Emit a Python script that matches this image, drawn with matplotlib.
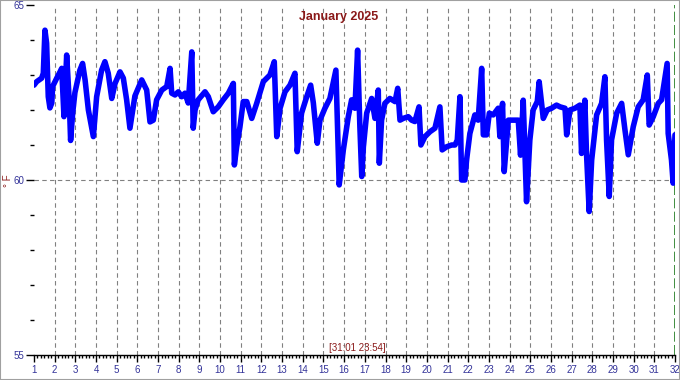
"""January 2025 temperature trace (°F), one day per grid column."""
import matplotlib
matplotlib.use("Agg")
import matplotlib.pyplot as plt
from matplotlib.ticker import MultipleLocator, FixedLocator
from matplotlib.patches import Rectangle

plt.rcParams["font.family"] = ["Liberation Sans", "DejaVu Sans"]

TITLE = "January 2025"
STAMP = "[31:01 23:54]"
UNIT = "° F"

# day-of-month (fractional) and temperature
days = [
    1.00, 1.13, 1.37, 1.45, 1.53, 1.61, 1.69, 1.77, 1.86, 1.90,
    2.10, 2.26, 2.34, 2.45, 2.58, 2.71, 2.77, 2.87, 2.98, 3.22,
    3.35, 3.47, 3.63, 3.87, 4.03, 4.27, 4.43, 4.59, 4.76, 4.92,
    5.16, 5.32, 5.48, 5.64, 5.88, 6.21, 6.45, 6.61, 6.77, 6.93,
    7.18, 7.42, 7.58, 7.66, 7.82, 7.98, 8.14, 8.30, 8.46, 8.63,
    8.70, 8.79, 8.94, 9.27, 9.43, 9.67, 9.91, 10.15, 10.40, 10.64,
    10.69, 10.80, 10.96, 11.12, 11.29, 11.53, 11.77, 12.09, 12.41, 12.62,
    12.74, 12.90, 13.14, 13.38, 13.62, 13.73, 13.94, 14.19, 14.38, 14.51,
    14.70, 14.83, 15.07, 15.31, 15.60, 15.76, 15.96, 16.20, 16.36, 16.52,
    16.65, 16.76, 16.85, 16.93, 17.09, 17.33, 17.49, 17.65, 17.70, 17.81,
    17.97, 18.21, 18.46, 18.59, 18.70, 18.86, 19.10, 19.26, 19.42, 19.62,
    19.71, 19.91, 20.15, 20.39, 20.63, 20.74, 20.96, 21.20, 21.36, 21.47,
    21.60, 21.68, 21.84, 21.92, 22.08, 22.32, 22.48, 22.65, 22.73, 22.89,
    23.02, 23.21, 23.45, 23.53, 23.66, 23.74, 23.94, 24.18, 24.42, 24.53,
    24.66, 24.82, 24.98, 25.14, 25.34, 25.43, 25.63, 25.82, 26.03, 26.27,
    26.44, 26.68, 26.76, 26.92, 27.16, 27.40, 27.48, 27.64, 27.72, 27.85,
    27.97, 28.21, 28.45, 28.61, 28.69, 28.82, 28.93, 29.18, 29.42, 29.58,
    29.74, 29.98, 30.22, 30.46, 30.66, 30.75, 30.95, 31.19, 31.35, 31.62,
    31.67, 31.83, 31.91, 32.00,
]
temps = [
    62.71, 62.81, 62.91, 63.05, 64.28, 63.91, 62.38, 62.06, 62.20, 62.67,
    62.91, 63.09, 63.19, 61.81, 63.57, 62.20, 61.13, 61.91, 62.50, 63.14,
    63.33, 62.86, 62.00, 61.24, 62.38, 63.14, 63.38, 63.05, 62.33, 62.76,
    63.09, 62.91, 62.29, 61.48, 62.40, 62.86, 62.57, 61.66, 61.71, 62.29,
    62.57, 62.67, 63.19, 62.48, 62.43, 62.52, 62.38, 62.48, 62.20, 63.66,
    61.48, 62.00, 62.29, 62.52, 62.38, 61.95, 62.09, 62.29, 62.48, 62.76,
    60.43, 60.95, 61.52, 62.24, 62.24, 61.76, 62.19, 62.81, 63.00, 63.38,
    61.24, 62.05, 62.52, 62.71, 63.05, 60.81, 61.91, 62.38, 62.71, 62.20,
    61.05, 61.71, 62.05, 62.33, 63.14, 59.86, 60.86, 61.81, 62.29, 62.05,
    63.71, 61.52, 60.10, 60.95, 61.91, 62.33, 61.76, 62.57, 60.48, 61.71,
    62.19, 62.33, 62.24, 62.62, 61.71, 61.76, 61.81, 61.71, 61.67, 62.09,
    61.00, 61.24, 61.38, 61.48, 62.09, 60.86, 60.95, 61.00, 61.00, 61.14,
    62.38, 60.00, 60.00, 60.57, 61.33, 61.86, 61.71, 63.19, 61.29, 61.29,
    61.91, 61.86, 62.05, 61.24, 62.19, 60.24, 61.71, 61.71, 61.71, 60.71,
    62.28, 59.38, 61.14, 62.00, 62.24, 62.81, 61.76, 62.00, 62.05, 62.14,
    62.09, 62.05, 61.29, 62.00, 62.05, 62.14, 60.76, 62.28, 60.76, 59.10,
    60.57, 61.86, 62.19, 62.95, 61.14, 59.53, 61.14, 61.91, 62.19, 61.43,
    60.72, 61.52, 62.09, 62.29, 63.00, 61.57, 61.81, 62.19, 62.29, 63.33,
    61.33, 60.57, 59.91, 61.29,
]

y_major = [55, 60, 65]

fig = plt.figure(figsize=(6.8, 3.8), dpi=100)
fig.patches.append(Rectangle((0, 0), 1, 1, transform=fig.transFigure,
                             fill=False, edgecolor="#a0a0a0", linewidth=1.5))

ax = fig.add_axes([34 / 680, 25 / 380, 641 / 680, 350 / 380])
ax.set_xlim(1, 32)
ax.set_ylim(55, 65)

# day grid
for d in range(2, 32):
    ax.axvline(d, color="#808080", linewidth=0.8, dashes=(4, 3), zorder=1)
ax.axhline(60, color="#808080", linewidth=0.8, dashes=(4, 3), zorder=1)
ax.axvline(32, color="#207a20", linewidth=1.2, dashes=(6, 2), zorder=1)

ax.plot(days, temps, color="#0000ff", linewidth=4.0, solid_joinstyle="round",
        solid_capstyle="round", zorder=3)

for side in ("top", "right", "left"):
    ax.spines[side].set_visible(False)
ax.spines["bottom"].set_linewidth(1.0)

label_color = "#333399"
ax.yaxis.set_major_locator(FixedLocator(y_major))
ax.yaxis.set_minor_locator(MultipleLocator(1))
ax.tick_params(axis="y", which="major", length=6, width=1.0, labelsize=7,
               labelcolor=label_color, pad=1)
ax.tick_params(axis="y", which="minor", length=3, width=1.0)

ax.xaxis.set_major_locator(MultipleLocator(1))
ax.xaxis.set_minor_locator(MultipleLocator(1 / 6))
ax.tick_params(axis="x", which="major", length=5, width=1.0, labelsize=7,
               labelcolor=label_color, pad=2)
ax.tick_params(axis="x", which="minor", length=2.5, width=1.0)

ax.text(0.475, 0.965, TITLE, transform=ax.transAxes, ha="center", va="center",
        color="#8b1a1a", fontsize=9, fontweight="bold")
ax.text(0.505, 0.02, STAMP, transform=ax.transAxes, ha="center", va="center",
        color="#8b1a1a", fontsize=7)
fig.text(8 / 680, 1 - 181 / 380, UNIT, rotation=90, ha="center", va="center",
         color="#8b1a1a", fontsize=7)

fig.savefig("out.png", dpi=100)
